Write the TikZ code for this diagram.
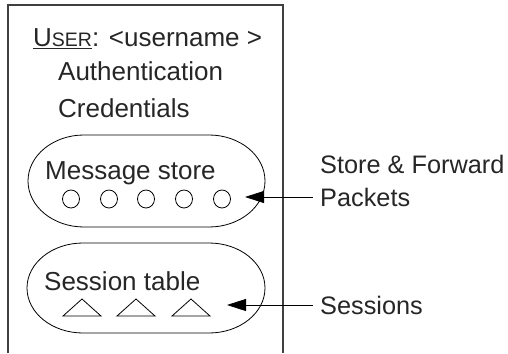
\documentclass[tikz,border=0pt]{standalone}
\usepackage{fontspec}
\setmainfont{Liberation Sans}
\usetikzlibrary{arrows.meta,positioning}
\newcommand{\usr}{\underline{U{\fontsize{19.5}{20}\selectfont SER}}}

\begin{document}
\begin{tikzpicture}[x=1pt,y=-1pt,>={Triangle[length=19pt,width=12pt]},
  font=\fontsize{26}{31}\selectfont,
  txt/.style={anchor=base west,inner sep=0pt,text=black!85},
  lbl/.style={anchor=west,inner xsep=7pt,inner ysep=0pt,text=black!85,
    font=\fontsize{25.3}{30}\selectfont}]
  \useasboundingbox (0,0) rectangle (508,353);
  % user box
  \draw[line width=1.5pt,black!75] (8,353) -- (8,5) -- (283,5) -- (283,353);
  \node[txt] (user) at (33,47) {\usr: <username >};
  \node[txt] (auth) at (58,81) {Authentication};
  \node[txt] (cred) at (58,117) {Credentials};
  % message store
  \draw[thick] (84,135) -- (209,135)
    arc[start angle=-90,end angle=90,x radius=56,y radius=46] -- (84,227)
    arc[start angle=90,end angle=270,x radius=56,y radius=46] -- cycle;
  \node[txt] (msg) at (45,179) {Message store};
  \foreach \x in {71,109,146,184,222}
    \draw[thick] (\x,199) ellipse [x radius=8.5,y radius=9];
  % session table
  \draw[thick] (83,243) -- (209,243)
    arc[start angle=-90,end angle=90,x radius=56,y radius=45] -- (83,333)
    arc[start angle=90,end angle=270,x radius=56,y radius=45] -- cycle;
  \node[txt] (sess) at (44,290) {Session table};
  \foreach \x in {82,136,191}
    \draw[thick] (\x-19,316) -- (\x,299) -- (\x+19,316) -- cycle;
  % labels
  \node[lbl] (pkt) at (313,197) {Packets};
  \node[lbl,above=33pt of pkt.west,anchor=west] (sf) {Store \& Forward};
  \node[lbl] (ses) at (313,305) {Sessions};
  \coordinate (pktTip) at (245,197);
  \coordinate (sesTip) at (227,305);
  \draw[->,thick] (pkt.west) -- (pktTip);
  \draw[->,thick] (ses.west) -- (sesTip);
\end{tikzpicture}
\end{document}
